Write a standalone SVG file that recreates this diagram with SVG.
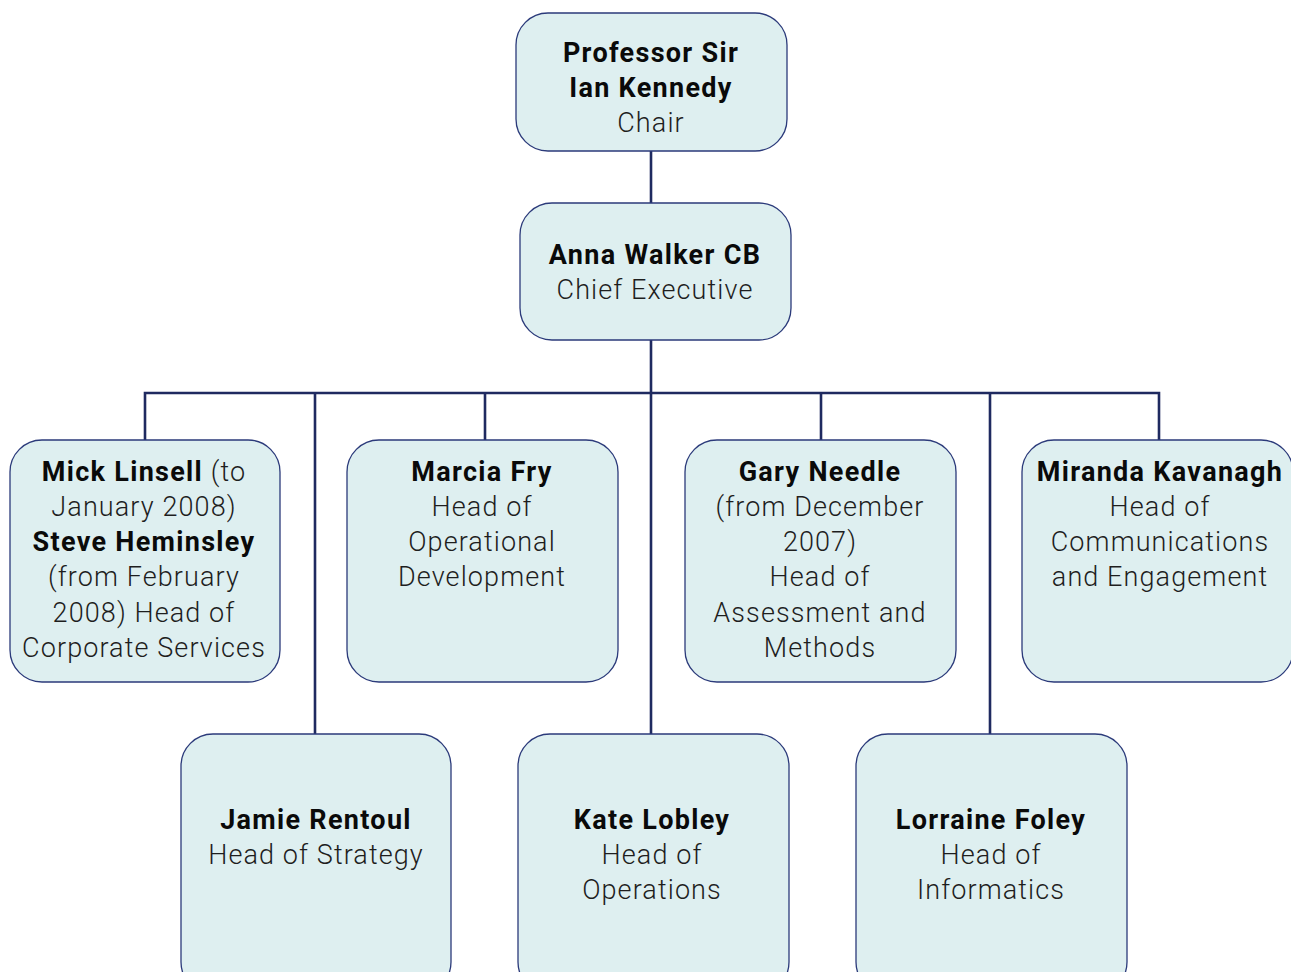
<svg xmlns="http://www.w3.org/2000/svg" width="1291" height="972" viewBox="0 0 1291 972">
  <style>
    .box { fill: #deeff0; stroke: #2b3a7a; stroke-width: 1.3; }
    .wire { fill: none; stroke: #1f2a60; stroke-width: 2.6; }
    text { font-family: Roboto, "Liberation Sans", sans-serif; font-size: 27px; text-anchor: middle; fill: #1e1e1e; letter-spacing: 1.1px; }
    .b { font-weight: bold; fill: #0a0a0a; letter-spacing: 1.3px; }
    .r { font-weight: 300; letter-spacing: 1.1px; }
  </style>
  <rect width="1291" height="972" fill="#ffffff"/>

  <g id="connectors">
    <path class="wire" d="M651 151 V203"/>
    <path class="wire" d="M651 340 V734"/>
    <path class="wire" d="M145 440 V393 H1159 V440"/>
    <path class="wire" d="M315 393 V734"/>
    <path class="wire" d="M485 393 V440"/>
    <path class="wire" d="M821 393 V440"/>
    <path class="wire" d="M990 393 V734"/>
  </g>

  <g id="chair">
    <rect class="box" x="516" y="13" width="271" height="138" rx="32"/>
    <text x="651" y="62" class="b">Professor Sir</text>
    <text x="651" y="97" class="b">Ian Kennedy</text>
    <text x="651" y="132" class="r">Chair</text>
  </g>

  <g id="chief-executive">
    <rect class="box" x="520" y="203" width="271" height="137" rx="32"/>
    <text x="655" y="264" class="b">Anna Walker CB</text>
    <text x="655" y="299" class="r">Chief Executive</text>
  </g>

  <g id="corporate-services">
    <rect class="box" x="10" y="440" width="270" height="242" rx="32"/>
    <text x="144" y="481"><tspan class="b">Mick Linsell</tspan><tspan class="r"> (to</tspan></text>
    <text x="144" y="516" class="r">January 2008)</text>
    <text x="144" y="551" class="b">Steve Heminsley</text>
    <text x="144" y="586" class="r">(from February</text>
    <text x="144" y="622" class="r">2008) Head of</text>
    <text x="144" y="657" class="r">Corporate Services</text>
  </g>

  <g id="operational-development">
    <rect class="box" x="347" y="440" width="271" height="242" rx="32"/>
    <text x="482" y="481" class="b">Marcia Fry</text>
    <text x="482" y="516" class="r">Head of</text>
    <text x="482" y="551" class="r">Operational</text>
    <text x="482" y="586" class="r">Development</text>
  </g>

  <g id="assessment-methods">
    <rect class="box" x="685" y="440" width="271" height="242" rx="32"/>
    <text x="820" y="481" class="b">Gary Needle</text>
    <text x="820" y="516" class="r">(from December</text>
    <text x="820" y="551" class="r">2007)</text>
    <text x="820" y="586" class="r">Head of</text>
    <text x="820" y="622" class="r">Assessment and</text>
    <text x="820" y="657" class="r">Methods</text>
  </g>

  <g id="communications">
    <rect class="box" x="1022" y="440" width="271" height="242" rx="32"/>
    <text x="1160" y="481" class="b">Miranda Kavanagh</text>
    <text x="1160" y="516" class="r">Head of</text>
    <text x="1160" y="551" class="r">Communications</text>
    <text x="1160" y="586" class="r">and Engagement</text>
  </g>

  <g id="strategy">
    <rect class="box" x="181" y="734" width="270" height="260" rx="32"/>
    <text x="316" y="829" class="b">Jamie Rentoul</text>
    <text x="316" y="864" class="r">Head of Strategy</text>
  </g>

  <g id="operations">
    <rect class="box" x="518" y="734" width="271" height="260" rx="32"/>
    <text x="652" y="829" class="b">Kate Lobley</text>
    <text x="652" y="864" class="r">Head of</text>
    <text x="652" y="899" class="r">Operations</text>
  </g>

  <g id="informatics">
    <rect class="box" x="856" y="734" width="271" height="260" rx="32"/>
    <text x="991" y="829" class="b">Lorraine Foley</text>
    <text x="991" y="864" class="r">Head of</text>
    <text x="991" y="899" class="r">Informatics</text>
  </g>
</svg>
